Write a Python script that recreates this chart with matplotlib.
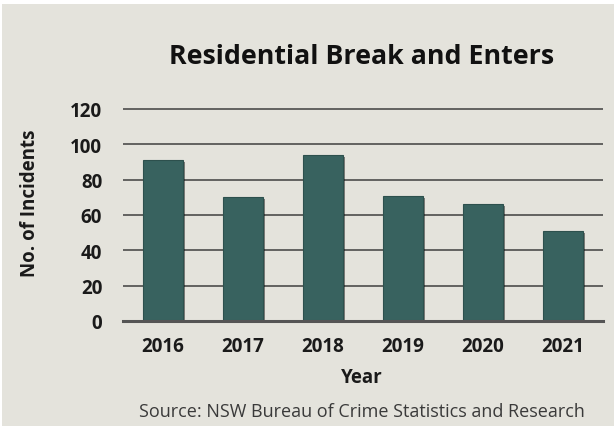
import matplotlib
matplotlib.use("Agg")
import matplotlib.pyplot as plt
from matplotlib.patches import Rectangle
import matplotlib.patheffects as pe

years = ["2016", "2017", "2018", "2019", "2020", "2021"]
incidents = [91, 70, 94, 71, 66, 51]
yticks = [0, 20, 40, 60, 80, 100, 120]

BG = "#e4e3dc"
BAR = "#38625f"
H = 427.0
W = 614.0

plt.rcParams["font.family"] = ["Open Sans", "DejaVu Sans"]

fig = plt.figure(figsize=(6.14, 4.27), dpi=100)
fig.patch.set_facecolor("white")
fig.patches.append(Rectangle((2 / W, 0), 1, 1 - 5 / H, transform=fig.transFigure,
                             facecolor=BG, edgecolor="none", zorder=-10))

ax = fig.add_axes([123 / W, 1 - 322 / H, 480 / W, (322 - 108.2) / H])
ax.set_facecolor("none")
x = list(range(len(years)))
bars = ax.bar(x, incidents, width=0.5, color=BAR, edgecolor="#2d504d", linewidth=0.8, zorder=3)
for b in bars:
    b.set_path_effects([pe.SimplePatchShadow(offset=(1.5, -1.5), shadow_rgbFace="black", alpha=0.45),
                        pe.Normal()])

ax.set_xlim(-0.5, len(years) - 0.5)
ax.set_ylim(0, 121)
ax.set_yticks(yticks)
ax.set_xticks(x)
ax.set_xticklabels(years)
for t in yticks[1:]:
    ax.axhline(t, color="#3f3f3f", lw=1.1, zorder=1)
for s in ["top", "right", "left"]:
    ax.spines[s].set_visible(False)
ax.spines["bottom"].set_color("#555555")
ax.spines["bottom"].set_linewidth(2.2)
ax.spines["bottom"].set_zorder(4)
ax.tick_params(axis="both", length=0, labelsize=13.5, colors="#1a1a1a")
ax.tick_params(axis="y", pad=15)
ax.tick_params(axis="x", pad=11)
for lab in ax.get_xticklabels() + ax.get_yticklabels():
    lab.set_fontweight("bold")

fig.text(362 / W, 1 - 383.3 / H, "Year", ha="center", va="baseline",
         fontsize=13.5, fontweight="bold", color="#1a1a1a")
fig.text(30 / W, 1 - 203 / H, "No. of Incidents", rotation=90, ha="center", va="center",
         fontsize=13.5, fontweight="bold", color="#1a1a1a")
fig.text(362 / W, 1 - 64.3 / H, "Residential Break and Enters", ha="center", va="baseline",
         fontsize=19.3, fontweight="bold", color="#111111")
fig.text(585 / W, 1 - 416.7 / H, "Source: NSW Bureau of Crime Statistics and Research",
         ha="right", va="baseline", fontsize=13, color="#3a3a3a")

fig.savefig("out.png", dpi=100, facecolor=fig.get_facecolor())
